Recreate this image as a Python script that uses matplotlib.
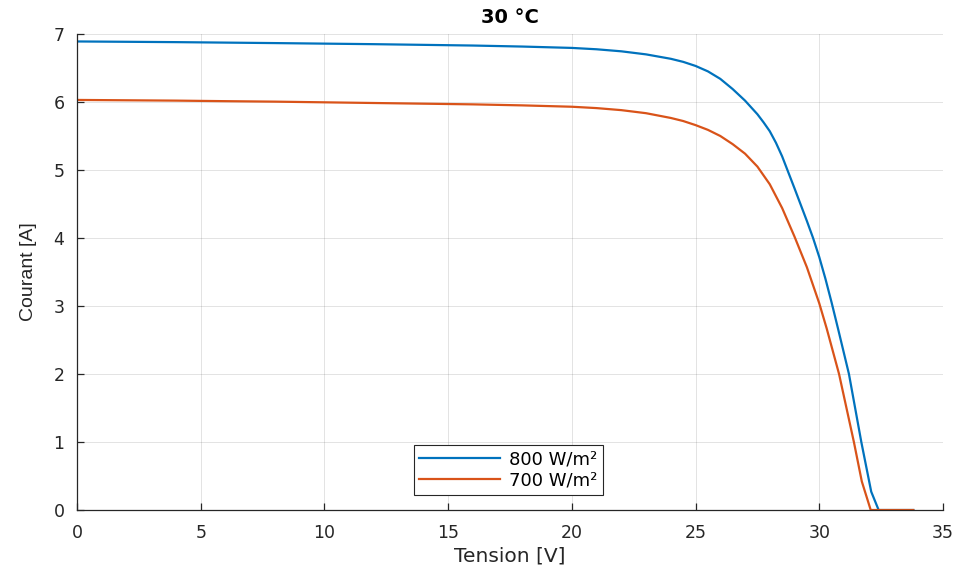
import matplotlib
matplotlib.use("Agg")
import matplotlib.pyplot as plt

plt.rcParams['font.family'] = ['DejaVu Sans']

title = "30 °C"
xlabel = "Tension [V]"
ylabel = "Courant [A]"
labels = ["800 W/m²", "700 W/m²"]
colors = ["#0072BD", "#D95319"]

v_800 = [0, 2, 4, 6, 8, 10, 12, 14, 16, 18, 20, 21, 22, 23, 24, 24.5, 25, 25.5, 26, 26.5, 27, 27.5, 27.75,
         28.0, 28.25, 28.5, 29.0, 29.5, 29.75, 30.0, 30.25, 30.5, 30.77, 31.2, 31.7, 32.1, 32.4, 33.8]
i_800 = [6.89, 6.885, 6.88, 6.873, 6.866, 6.858, 6.85, 6.84, 6.83, 6.815, 6.795, 6.775, 6.745, 6.70, 6.635,
         6.59, 6.53, 6.45, 6.34, 6.19, 6.02, 5.82, 5.70, 5.57, 5.40, 5.20, 4.73, 4.25, 4.00, 3.72, 3.40,
         3.05, 2.65, 2.0, 1.0, 0.27, 0.0, 0.0]

v_700 = [0, 2, 4, 6, 8, 10, 12, 14, 16, 18, 20, 21, 22, 23, 24, 24.5, 25, 25.5, 26, 26.5, 27, 27.5, 28.0,
         28.5, 29.0, 29.5, 30.0, 30.3, 30.8, 31.4, 31.72, 32.08, 33.8]
i_700 = [6.03, 6.025, 6.02, 6.012, 6.005, 5.995, 5.985, 5.975, 5.965, 5.95, 5.93, 5.91, 5.88, 5.835, 5.765,
         5.72, 5.66, 5.59, 5.50, 5.38, 5.24, 5.05, 4.79, 4.44, 4.02, 3.57, 3.04, 2.67, 2.0, 1.0, 0.42, 0.0,
         0.0]

fig = plt.figure(figsize=(9.58, 5.71), dpi=100)
ax = fig.add_axes([0.0804, 0.1068, 0.9039, 0.8337])

ax.plot(v_800, i_800, color=colors[0], lw=1.6, label=labels[0])
ax.plot(v_700, i_700, color=colors[1], lw=1.6, label=labels[1])

ax.set_xlim(0, 35)
ax.set_ylim(0, 7)
ax.set_xticks(range(0, 36, 5))
ax.set_yticks(range(0, 8))
ax.grid(True, color="#262626", alpha=0.13, lw=0.7)
ax.set_axisbelow(True)
ax.spines['top'].set_visible(False)
ax.spines['right'].set_visible(False)
for s in ('left', 'bottom'):
    ax.spines[s].set_color("#262626")
    ax.spines[s].set_linewidth(0.9)
ax.tick_params(direction='in', length=5, width=0.9, colors="#262626", labelsize=12.5,
               top=False, right=False)
ax.tick_params(axis='x', pad=10)
ax.tick_params(axis='y', pad=9)
for lab in ax.get_xticklabels() + ax.get_yticklabels():
    lab.set_color("#262626")

ax.set_title(title, fontsize=14, fontweight='bold', pad=8, color="black")
ax.set_xlabel(xlabel, fontsize=14.5, color="#262626", labelpad=3)
ax.set_ylabel(ylabel, fontsize=14, color="#262626", family=['Liberation Sans', 'DejaVu Sans'])
ax.yaxis.set_label_coords(-0.046, 0.5)

leg = ax.legend(loc='center', bbox_to_anchor=(0.498, 0.084), fontsize=13, handlelength=4.5,
                frameon=True, fancybox=False, framealpha=1, edgecolor="#262626",
                borderpad=0.3, labelspacing=0.15, handletextpad=0.5, borderaxespad=0)
leg.get_frame().set_linewidth(0.8)

fig.savefig("out.png", dpi=100)
